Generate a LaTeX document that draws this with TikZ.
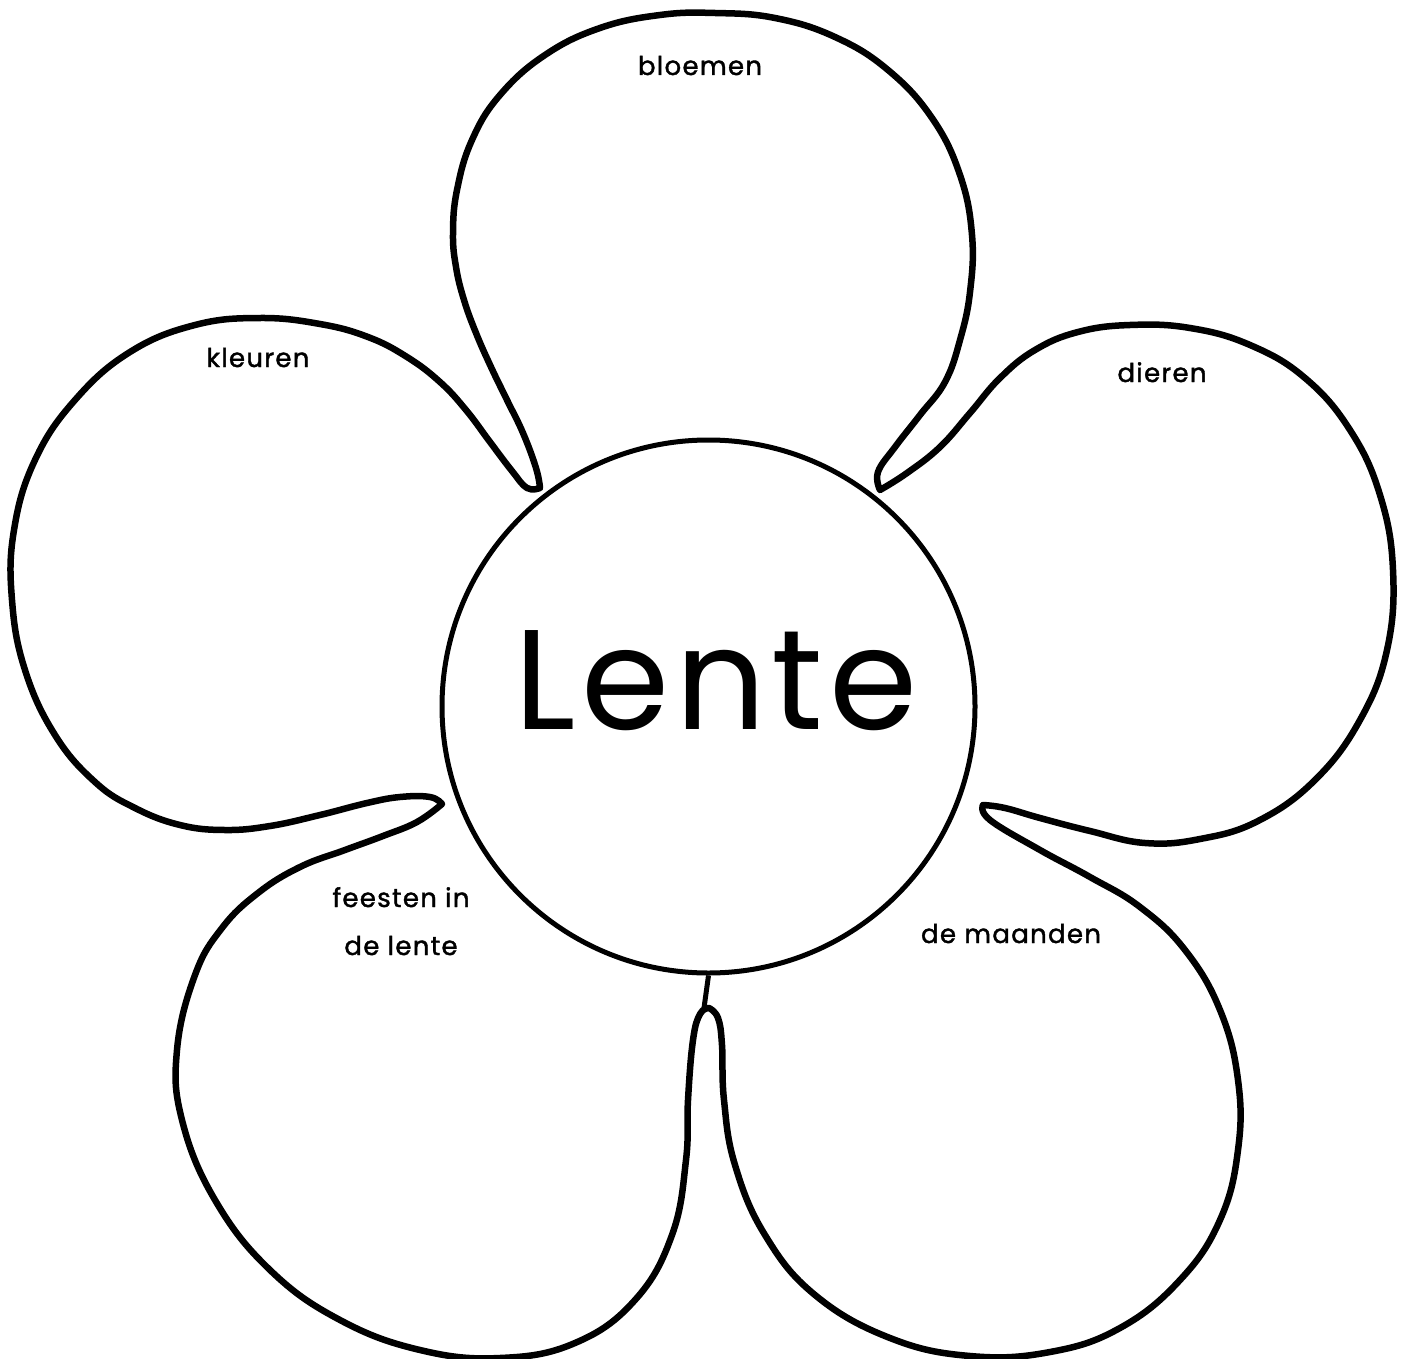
\documentclass[tikz,border=0pt]{standalone}
\usepackage{fontspec}
\newfontfamily\lentefont[LetterSpace=4]{Poppins}
\newfontfamily\woordfont[LetterSpace=5, FakeBold=1.5]{Poppins}

\begin{document}
\begin{tikzpicture}[x=1pt, y=-1pt,
    rand/.style={line width=6.5pt, line join=round, line cap=round},
    hart/.style={draw, circle, line width=5pt, minimum size=533pt, inner sep=0pt},
    woord/.style={font=\woordfont\fontsize{26}{30}\selectfont, anchor=base, inner sep=0pt},
    titel/.style={font=\lentefont\fontsize{142}{160}\selectfont, anchor=base, inner sep=0pt}]
  \fill[white] (0,0) rectangle (1416,1359);
  \useasboundingbox (0,0) rectangle (1416,1359);
  % flower outline, one lobe after the other
  \draw[rand]
    plot[smooth, tension=0.7] coordinates {(540,488) (536,468) (523,433) (507,400)
      (491,367) (476,333) (464,300) (456,267) (453,233) (457,190) (472,140) (500,95)
      (545,55) (600,28) (660,15) (715,13) (775,18) (835,37) (888,70) (932,118)
      (960,175) (972,235) (970,292) (960,340) (945,382) (920,415) (895,447)
      (878,472) (880,490)}
    -- plot[smooth, tension=0.7] coordinates {(880,490) (907,473) (940,447)
      (970,413) (1000,378) (1035,350) (1078,332) (1130,325) (1190,328) (1250,345)
      (1305,378) (1350,430) (1380,495) (1393,570) (1387,650) (1360,720) (1315,780)
      (1258,821) (1200,839) (1145,843) (1090,831) (1040,818) (1005,808) (983,805)}
    -- plot[smooth, tension=0.7] coordinates {(983,805) (990,820) (1040,850)
      (1090,877) (1140,907) (1185,950) (1220,1010) (1238,1080)
      (1238,1150) (1220,1220) (1180,1280) (1120,1328) (1050,1352) (970,1356)
      (890,1338) (815,1295) (765,1235) (735,1165) (724,1100) (722,1045)
      (718,1018) (709,1008)}
    -- plot[smooth, tension=0.7] coordinates {(709,1008) (700,1014) (693,1040)
      (688,1100) (686,1160) (672,1235) (635,1300) (575,1343) (500,1358) (420,1350)
      (340,1320) (270,1270) (215,1200) (182,1120) (177,1050) (195,975) (222,928)
      (258,893) (300,867) (345,850) (383,836) (417,822) (442,804)}
    -- plot[smooth, tension=0.7] coordinates {(442,804) (430,797) (400,797)
      (367,803) (320,815) (270,826) (225,830) (180,825) (135,808) (95,782)
      (55,735) (25,670) (12,600) (14,530) (35,460) (75,400) (130,352) (195,325)
      (260,318) (320,324) (368,337) (407,357) (440,382) (466,410) (490,442)
      (512,471) (527,488) (540,488)};
  % heart of the flower
  \node[hart] (midden) at (708.5,706.5) {};
  \coordinate (steel) at (704,1008);
  \draw[line width=5pt] (midden.south) -- (steel);
  \node[titel] (lente) at (716,729) {Lente};
  % petal words
  \node[woord] (bloemen) at (700,75) {bloemen};
  \node[woord] (kleuren) at (258,367) {kleuren};
  \node[woord] (dieren) at (1162,382) {dieren};
  \node[woord] (feesten) at (401,907) {feesten in};
  \node[woord] (delente) at (401,955) {de lente};
  \node[woord] (maanden) at (1011,943) {de maanden};
\end{tikzpicture}
\end{document}
